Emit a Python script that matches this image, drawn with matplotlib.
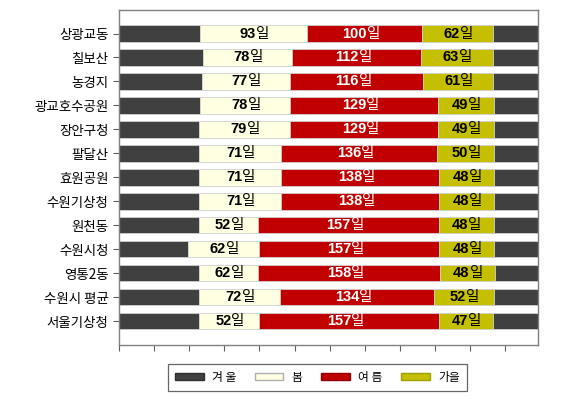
import matplotlib
matplotlib.use("Agg")
from matplotlib import pyplot as plt
from matplotlib.patches import Patch
import numpy as np

plt.rcParams['font.family'] = ['Liberation Sans', 'Noto Sans CJK KR', 'DejaVu Sans']

# 지점
지점 = ['상광교동', '칠보산', '농경지', '광교호수공원', '장안구청', '팔달산', '효원공원',
      '수원기상청', '원천동', '수원시청', '영통2동', '수원시 평균', '서울기상청']
# 1월 1일부터 봄 시작까지 (겨울 앞부분, 일)
겨울_앞 = [71, 73, 72, 71, 70, 70, 70, 70, 69.5, 60, 69.5, 69.5, 70]
# 막대 길이
봄 = [93, 78, 77, 78, 79, 71, 71, 71, 52, 62, 52, 71, 52]
여름 = [100, 112, 116, 129, 129, 136, 138, 138, 157, 157, 158, 134, 157]
가을 = [62, 63, 61, 49, 49, 50, 48, 48, 48, 48, 48, 52, 47]
# 봄 라벨 (원본 표기 그대로)
봄_라벨 = [93, 78, 77, 78, 79, 71, 71, 71, 52, 62, 62, 72, 52]
연간 = 365

겨울_앞 = np.array(겨울_앞)
봄 = np.array(봄)
여름 = np.array(여름)
가을 = np.array(가을)
겨울_뒤 = 연간 - (겨울_앞 + 봄 + 여름 + 가을)

색 = {'겨울': '#404040', '봄': '#FFFFE1', '여름': '#C00000', '가을': '#C4C000'}

fig = plt.figure(figsize=(5.82, 3.99), dpi=100)
ax = fig.add_axes([0.2045, 0.1353, 0.7195, 0.8407])

y = np.arange(len(지점))
h = 0.69
kw = dict(height=h, edgecolor='#cfcfcf', linewidth=0.6)
ax.barh(y, 겨울_앞, color=색['겨울'], **kw)
ax.barh(y, 봄, left=겨울_앞, color=색['봄'], **kw)
ax.barh(y, 여름, left=겨울_앞 + 봄, color=색['여름'], **kw)
ax.barh(y, 가을, left=겨울_앞 + 봄 + 여름, color=색['가을'], **kw)
ax.barh(y, 겨울_뒤, left=겨울_앞 + 봄 + 여름 + 가을, color=색['겨울'], **kw)


def 라벨(시작, 값, 글, 글자색):
    for i in range(len(지점)):
        cx = 시작[i] + 값[i] / 2 + 2
        ax.text(cx, y[i], str(int(글[i])), ha='right', va='center',
                fontsize=10.5, fontweight='bold', color=글자색)
        ax.text(cx, y[i], '일', ha='left', va='center', fontsize=10.5,
                color=글자색, family=['Noto Sans CJK KR'])


라벨(겨울_앞, 봄, 봄_라벨, 'black')
라벨(겨울_앞 + 봄, 여름, 여름, 'white')
라벨(겨울_앞 + 봄 + 여름, 가을, 가을, 'black')

ax.set_xlim(0, 연간)
ax.set_ylim(len(지점), -1)
ax.set_yticks(y)
ax.set_yticklabels(지점, fontsize=9.7, family=['Noto Sans CJK KR'])
ax.set_xticks(np.arange(12) * 30.6)
ax.set_xticklabels([])
ax.tick_params(axis='both', direction='out', length=4, color='#606060', width=0.8)
for s in ax.spines.values():
    s.set_color('#808080')
    s.set_linewidth(1)

범례 = [Patch(facecolor=색['겨울'], edgecolor='#303030', label='겨 울'),
      Patch(facecolor=색['봄'], edgecolor='#b0b0b0', label='봄'),
      Patch(facecolor=색['여름'], edgecolor='#900000', label='여 름'),
      Patch(facecolor=색['가을'], edgecolor='#a0a000', label='가을')]
leg = fig.legend(handles=범례, loc='center', bbox_to_anchor=(0.5455, 0.054), ncol=4,
                 fancybox=False, edgecolor='#404040', handlelength=2.4, handleheight=0.5,
                 columnspacing=1.6, handletextpad=0.7, borderpad=0.6,
                 prop={'family': 'Noto Sans CJK KR', 'size': 8.5})
leg.get_frame().set_linewidth(0.9)

fig.savefig("out.png", dpi=100)
